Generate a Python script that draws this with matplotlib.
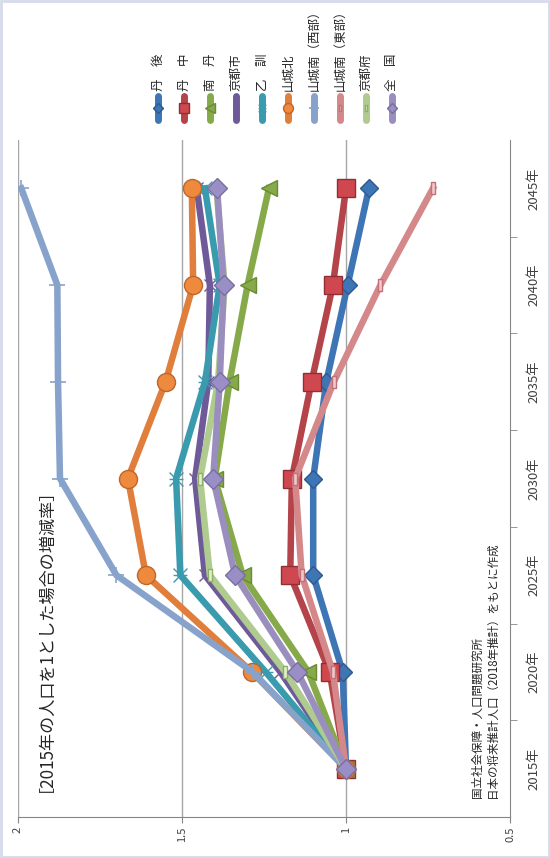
import matplotlib
matplotlib.use("Agg")
import matplotlib.pyplot as plt
from matplotlib.path import Path
from matplotlib.patches import Rectangle

plt.rcParams['font.family'] = ['Noto Sans CJK JP', 'DejaVu Sans']

# data (2015 = 1)
years = ['2015年', '2020年', '2025年', '2030年', '2035年', '2040年', '2045年']
names = ['丹\u3000後', '丹\u3000中', '南\u3000丹', '京都市', '乙\u3000訓',
         '山城北', '山城南（西部）', '山城南（東部）', '京都府', '全\u3000国']
tango       = [1, 1.01, 1.10, 1.10, 1.06, 0.995, 0.93]
tanchu      = [1, 1.05, 1.17, 1.165, 1.105, 1.04, 1.0]
nantan      = [1, 1.115, 1.315, 1.40, 1.355, 1.30, 1.235]
kyoto_city  = [1, 1.20, 1.43, 1.46, 1.42, 1.415, 1.455]
otokuni     = [1, 1.245, 1.505, 1.518, 1.43, 1.385, 1.43]
yama_north  = [1, 1.287, 1.61, 1.665, 1.55, 1.466, 1.47]
yama_west   = [1, 1.285, 1.70, 1.872, 1.878, 1.88, 1.99]
yama_east   = [1, 1.04, 1.135, 1.155, 1.037, 0.895, 0.735]
kyoto_pref  = [1, 1.185, 1.415, 1.445, 1.39, 1.37, 1.395]
zenkoku     = [1, 1.148, 1.338, 1.405, 1.385, 1.373, 1.393]
series = [tango, tanchu, nantan, kyoto_city, otokuni,
          yama_north, yama_west, yama_east, kyoto_pref, zenkoku]

# custom markers
star = Path([(-1, -1), (1, 1), (-1, 1), (1, -1), (-1, 0), (1, 0)],
            [Path.MOVETO, Path.LINETO, Path.MOVETO, Path.LINETO, Path.MOVETO, Path.LINETO])
dash = Path([(-0.35, -1), (0.35, -1), (0.35, 1), (-0.35, 1), (-0.35, -1)],
            [Path.MOVETO, Path.LINETO, Path.LINETO, Path.LINETO, Path.CLOSEPOLY])

styles = [
    dict(color='#3E75B5', marker='D', ms=9, mfc='#3E75B5', mec='#2C5A8E'),
    dict(color='#B5434A', marker='s', ms=12.5, mfc='#D0484F', mec='#8E2F35'),
    dict(color='#86A94A', marker='<', ms=12, mfc='#86A94A', mec='#6A8A36'),
    dict(color='#6F5A99', marker='x', ms=8, mfc='none', mec='#6F5A99', mew=1),
    dict(color='#3A9AAE', marker=star, ms=10, mfc='none', mec='#3A9AAE', mew=1),
    dict(color='#E07E3C', marker='o', ms=13, mfc='#EE8A3E', mec='#C0652A'),
    dict(color='#87A3CB', marker='+', ms=12, mfc='none', mec='#87A3CB', mew=1.2),
    dict(color='#D4888A', marker=dash, ms=9, mfc='#F2C9CA', mec='#C0707A', mew=1),
    dict(color='#AFCB8F', marker=dash, ms=9, mfc='#E3F0C8', mec='#8FAE6A', mew=1),
    dict(color='#9A8EBE', marker='D', ms=10, mfc='#9A8EC6', mec='#7A6EA0'),
]

fig = plt.figure(figsize=(5.5, 8.58), dpi=100)
W, H = 550, 858
ax = fig.add_axes([18 / W, (H - 817) / H, 492 / W, 677 / H])

pos = list(range(len(years)))
for vals, st in zip(series, styles):
    ax.plot(vals, pos, lw=4.7, solid_joinstyle='miter', **st)

ax.set_xlim(2, 0.5)
ax.set_ylim(-0.5, len(years) - 0.5)
ax.set_xticks([2, 1.5, 1, 0.5])
ax.set_xticklabels(['2', '1.5', '1', '0.5'], rotation=90, fontsize=8, color='#404040')
ax.tick_params(axis='x', length=4, color='#868686', pad=3)
for v in [2, 1.5, 1]:
    ax.axvline(v, color='#A6A6A6', lw=1, zorder=0)

ax.yaxis.tick_right()
ax.set_yticks(pos)
ax.set_yticklabels(years, rotation=90, va='center', fontsize=9.5, color='#404040')
ax.set_yticks([p + 0.5 for p in pos[:-1]], minor=True)
ax.tick_params(axis='y', which='major', length=0, pad=12.5)
ax.tick_params(axis='y', which='minor', length=5, color='#868686')
for s in ['left', 'top']:
    ax.spines[s].set_visible(False)
for s in ['bottom', 'right']:
    ax.spines[s].set_color('#868686')

# overlay for legend and notes, pixel coordinates
ov = fig.add_axes([0, 0, 1, 1], facecolor='none')
ov.set_xlim(0, W)
ov.set_ylim(H, 0)
ov.axis('off')

leg_x = [158, 184, 210, 236, 262, 288, 314, 340, 366, 392]
for x, name, st in zip(leg_x, names, styles):
    ov.plot([x, x], [96, 120], color=st['color'], lw=5, solid_capstyle='round')
    ov.plot([x], [108], ls='none', marker=st['marker'], ms=st['ms'] * 0.55,
            mfc=st['mfc'], mec=st['mec'], mew=st.get('mew', 1))
    ov.text(x, 91, name, rotation=90, ha='center', va='bottom', fontsize=9, color='#262626')

ov.text(37, 792, '［2015年の人口を1とした場合の増減率］', rotation=90,
        ha='center', va='bottom', fontsize=12.3, color='#262626')
ov.text(485, 798, '国立社会保障・人口問題研究所\n日本の将来推計人口（2018年推計）をもとに作成',
        rotation=90, ha='center', va='bottom', multialignment='left',
        fontsize=8.3, color='#262626', linespacing=1.25)

fig.patches.append(Rectangle((0.002, 0.001), 0.996, 0.998, transform=fig.transFigure,
                             fill=False, edgecolor='#D5DBEC', lw=2))

fig.savefig('out.png', dpi=100)
